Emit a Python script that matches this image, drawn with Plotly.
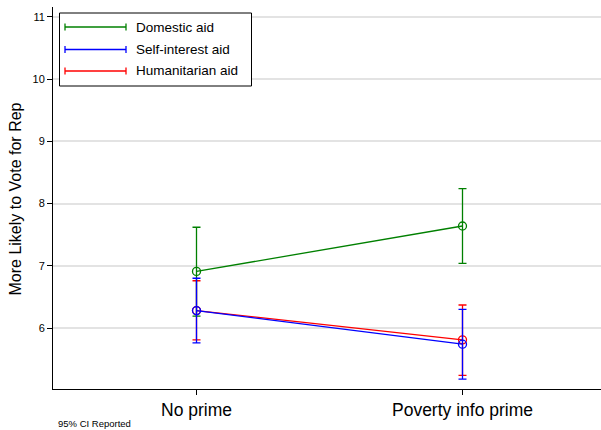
import plotly.graph_objects as go

# Conditions on the x axis
conditions = ["No prime", "Poverty info prime"]
x_pos = [0, 1]

# Group means and 95% confidence bounds
series_names = ["Domestic aid", "Self-interest aid", "Humanitarian aid"]
domestic_mean = [6.91, 7.64]
domestic_lo = [6.19, 7.04]
domestic_hi = [7.62, 8.24]

selfint_mean = [6.28, 5.74]
selfint_lo = [5.76, 5.18]
selfint_hi = [6.80, 6.30]

human_mean = [6.28, 5.81]
human_lo = [5.81, 5.24]
human_hi = [6.76, 6.37]

y_ticks = [6, 7, 8, 9, 10, 11]

GREEN = "#008000"
BLUE = "#0000ff"
RED = "#ff0000"
FONT = "Liberation Sans, Arial, Helvetica, sans-serif"

W, H = 601, 430
ML, MR, MT, MB = 53, 0, 7, 41
PW, PH = W - ML - MR, H - MT - MB


def px_x(px):
    return (px - ML) / PW


def px_y(py):
    return (H - MB - py) / PH


def ci_trace(mean, lo, hi, color):
    return go.Scatter(
        x=x_pos,
        y=mean,
        mode="lines+markers",
        line=dict(color=color, width=1.3),
        marker=dict(symbol="circle-open", size=8, color=color, line=dict(width=1.3, color=color)),
        error_y=dict(
            type="data",
            symmetric=False,
            array=[h - m for h, m in zip(hi, mean)],
            arrayminus=[m - l for m, l in zip(mean, lo)],
            color=color,
            thickness=1.3,
            width=4,
        ),
        showlegend=False,
        hoverinfo="skip",
    )


fig = go.Figure()
fig.add_trace(ci_trace(human_mean, human_lo, human_hi, RED))
fig.add_trace(ci_trace(domestic_mean, domestic_lo, domestic_hi, GREEN))
fig.add_trace(ci_trace(selfint_mean, selfint_lo, selfint_hi, BLUE))

# Legend drawn as capped range samples inside a framed box
shapes = [
    dict(type="rect", xref="paper", yref="paper",
         x0=px_x(59.5), x1=px_x(251.5), y0=px_y(86), y1=px_y(13),
         line=dict(color="black", width=1), fillcolor="white", layer="above"),
]
annotations = []
legend_rows = [(series_names[0], GREEN, 27), (series_names[1], BLUE, 49.5), (series_names[2], RED, 71)]
for name, color, yy in legend_rows:
    shapes.append(dict(type="line", xref="paper", yref="paper",
                       x0=px_x(65), x1=px_x(126), y0=px_y(yy), y1=px_y(yy),
                       line=dict(color=color, width=1.3), layer="above"))
    for xc in (65, 126):
        shapes.append(dict(type="line", xref="paper", yref="paper",
                           x0=px_x(xc), x1=px_x(xc), y0=px_y(yy - 3.5), y1=px_y(yy + 3.5),
                           line=dict(color=color, width=1.3), layer="above"))
    annotations.append(dict(text=name, xref="paper", yref="paper",
                            x=px_x(134), y=px_y(yy), xanchor="left", yanchor="middle",
                            showarrow=False, font=dict(family=FONT, size=13.5, color="black")))

annotations.append(dict(text="More Likely to Vote for Rep", xref="paper", yref="paper",
                        x=px_x(15), y=px_y(199.5), xanchor="center", yanchor="middle", textangle=-90,
                        showarrow=False, font=dict(family=FONT, size=16, color="black")))
annotations.append(dict(text="95% CI Reported", xref="paper", yref="paper",
                        x=px_x(56), y=px_y(424), xanchor="left", yanchor="middle",
                        showarrow=False, font=dict(family=FONT, size=9.5, color="black")))

fig.update_layout(
    width=W, height=H,
    margin=dict(l=ML, r=MR, t=MT, b=MB),
    paper_bgcolor="white", plot_bgcolor="white",
    shapes=shapes, annotations=annotations,
    font=dict(family=FONT, color="black"),
    xaxis=dict(
        range=[(ML - 196.5) / 266, (W - 196.5) / 266],
        tickvals=x_pos, ticktext=conditions,
        ticks="outside", ticklen=5, tickcolor="black", tickwidth=1,
        showline=True, linecolor="black", linewidth=1, mirror=False,
        showgrid=False, zeroline=False,
        tickfont=dict(family=FONT, size=17.5, color="black"),
    ),
    yaxis=dict(
        range=[5.02, 11.16],
        tickvals=y_ticks,
        ticks="outside", ticklen=5, tickcolor="black", tickwidth=1,
        showline=True, linecolor="black", linewidth=1, mirror=False,
        showgrid=True, gridcolor="#e3e3e3", gridwidth=1.5,
        zeroline=False,
        tickfont=dict(family=FONT, size=11, color="black"),
    ),
)

fig.write_html("out.html")
